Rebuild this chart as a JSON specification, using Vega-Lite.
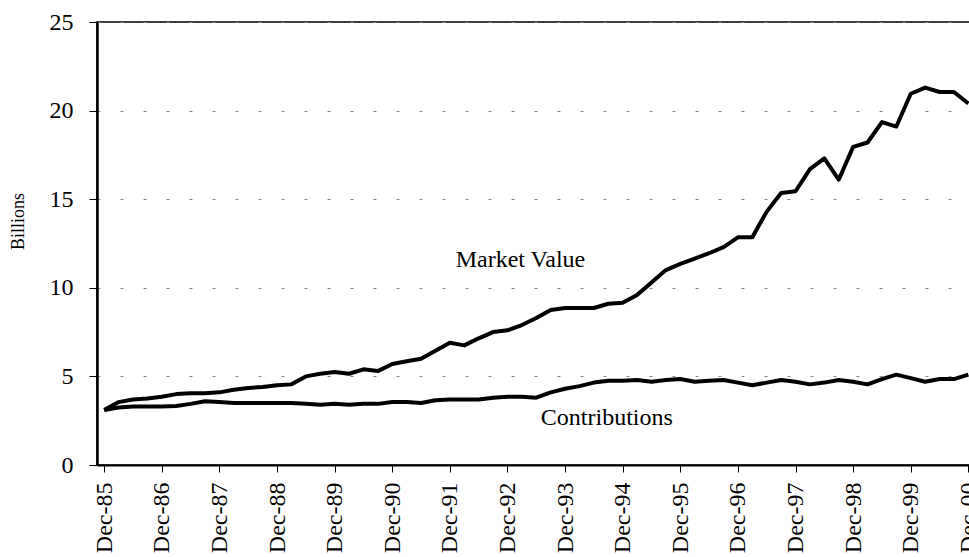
{
  "$schema": "https://vega.github.io/schema/vega-lite/v6.json",
  "autosize": {"type": "none"},
  "padding": {"left": 97, "top": 22, "right": 0, "bottom": 92},
  "width": 880,
  "height": 443,
  "background": "white",
  "config": {
    "view": {"stroke": "black", "strokeWidth": 1.5},
    "font": "Liberation Serif"
  },
  "datasets": {
    "series": [
      {"t": 0, "quarter": "Dec-85", "market_value": 3.1, "contributions": 3.1},
      {"t": 1, "quarter": "Mar-86", "market_value": 3.55, "contributions": 3.25},
      {"t": 2, "quarter": "Jun-86", "market_value": 3.7, "contributions": 3.3},
      {"t": 3, "quarter": "Sep-86", "market_value": 3.75, "contributions": 3.3},
      {"t": 4, "quarter": "Dec-86", "market_value": 3.85, "contributions": 3.3},
      {"t": 5, "quarter": "Mar-87", "market_value": 4.0, "contributions": 3.33},
      {"t": 6, "quarter": "Jun-87", "market_value": 4.05, "contributions": 3.45},
      {"t": 7, "quarter": "Sep-87", "market_value": 4.05, "contributions": 3.6},
      {"t": 8, "quarter": "Dec-87", "market_value": 4.1, "contributions": 3.55},
      {"t": 9, "quarter": "Mar-88", "market_value": 4.25, "contributions": 3.5},
      {"t": 10, "quarter": "Jun-88", "market_value": 4.35, "contributions": 3.5},
      {"t": 11, "quarter": "Sep-88", "market_value": 4.4, "contributions": 3.5},
      {"t": 12, "quarter": "Dec-88", "market_value": 4.5, "contributions": 3.5},
      {"t": 13, "quarter": "Mar-89", "market_value": 4.55, "contributions": 3.5},
      {"t": 14, "quarter": "Jun-89", "market_value": 5.0, "contributions": 3.45},
      {"t": 15, "quarter": "Sep-89", "market_value": 5.15, "contributions": 3.4},
      {"t": 16, "quarter": "Dec-89", "market_value": 5.25, "contributions": 3.45},
      {"t": 17, "quarter": "Mar-90", "market_value": 5.15, "contributions": 3.4},
      {"t": 18, "quarter": "Jun-90", "market_value": 5.4, "contributions": 3.45},
      {"t": 19, "quarter": "Sep-90", "market_value": 5.3, "contributions": 3.45},
      {"t": 20, "quarter": "Dec-90", "market_value": 5.7, "contributions": 3.55},
      {"t": 21, "quarter": "Mar-91", "market_value": 5.85, "contributions": 3.55},
      {"t": 22, "quarter": "Jun-91", "market_value": 6.0, "contributions": 3.5},
      {"t": 23, "quarter": "Sep-91", "market_value": 6.45, "contributions": 3.65},
      {"t": 24, "quarter": "Dec-91", "market_value": 6.9, "contributions": 3.7},
      {"t": 25, "quarter": "Mar-92", "market_value": 6.75, "contributions": 3.7},
      {"t": 26, "quarter": "Jun-92", "market_value": 7.15, "contributions": 3.7},
      {"t": 27, "quarter": "Sep-92", "market_value": 7.5, "contributions": 3.8},
      {"t": 28, "quarter": "Dec-92", "market_value": 7.6, "contributions": 3.85},
      {"t": 29, "quarter": "Mar-93", "market_value": 7.9, "contributions": 3.85},
      {"t": 30, "quarter": "Jun-93", "market_value": 8.3, "contributions": 3.8},
      {"t": 31, "quarter": "Sep-93", "market_value": 8.75, "contributions": 4.1},
      {"t": 32, "quarter": "Dec-93", "market_value": 8.86, "contributions": 4.3},
      {"t": 33, "quarter": "Mar-94", "market_value": 8.86, "contributions": 4.45},
      {"t": 34, "quarter": "Jun-94", "market_value": 8.86, "contributions": 4.65},
      {"t": 35, "quarter": "Sep-94", "market_value": 9.1, "contributions": 4.75},
      {"t": 36, "quarter": "Dec-94", "market_value": 9.15, "contributions": 4.75},
      {"t": 37, "quarter": "Mar-95", "market_value": 9.6, "contributions": 4.8},
      {"t": 38, "quarter": "Jun-95", "market_value": 10.3, "contributions": 4.7},
      {"t": 39, "quarter": "Sep-95", "market_value": 11.0, "contributions": 4.8},
      {"t": 40, "quarter": "Dec-95", "market_value": 11.35, "contributions": 4.85},
      {"t": 41, "quarter": "Mar-96", "market_value": 11.65, "contributions": 4.7},
      {"t": 42, "quarter": "Jun-96", "market_value": 11.95, "contributions": 4.75},
      {"t": 43, "quarter": "Sep-96", "market_value": 12.3, "contributions": 4.8},
      {"t": 44, "quarter": "Dec-96", "market_value": 12.85, "contributions": 4.65},
      {"t": 45, "quarter": "Mar-97", "market_value": 12.85, "contributions": 4.5},
      {"t": 46, "quarter": "Jun-97", "market_value": 14.3, "contributions": 4.65},
      {"t": 47, "quarter": "Sep-97", "market_value": 15.35, "contributions": 4.8},
      {"t": 48, "quarter": "Dec-97", "market_value": 15.45, "contributions": 4.7},
      {"t": 49, "quarter": "Mar-98", "market_value": 16.7, "contributions": 4.55},
      {"t": 50, "quarter": "Jun-98", "market_value": 17.3, "contributions": 4.65},
      {"t": 51, "quarter": "Sep-98", "market_value": 16.1, "contributions": 4.8},
      {"t": 52, "quarter": "Dec-98", "market_value": 17.95, "contributions": 4.7},
      {"t": 53, "quarter": "Mar-99", "market_value": 18.2, "contributions": 4.55},
      {"t": 54, "quarter": "Jun-99", "market_value": 19.35, "contributions": 4.85},
      {"t": 55, "quarter": "Sep-99", "market_value": 19.1, "contributions": 5.1},
      {"t": 56, "quarter": "Dec-99", "market_value": 20.95, "contributions": 4.9},
      {"t": 57, "quarter": "Mar-00", "market_value": 21.3, "contributions": 4.7},
      {"t": 58, "quarter": "Jun-00", "market_value": 21.05, "contributions": 4.85},
      {"t": 59, "quarter": "Sep-00", "market_value": 21.05, "contributions": 4.85},
      {"t": 60, "quarter": "Dec-00", "market_value": 20.4, "contributions": 5.1}
    ],
    "labels": [
      {"label": "Market Value", "t": 28.9, "value": 11.2},
      {"label": "Contributions", "t": 34.9, "value": 2.26}
    ]
  },
  "layer": [
    {
      "data": {"name": "series"},
      "transform": [{"fold": ["market_value", "contributions"], "as": ["series", "value"]}],
      "mark": {"type": "line", "color": "black", "strokeWidth": 4, "strokeJoin": "round"},
      "encoding": {
        "x": {
          "field": "t",
          "type": "quantitative",
          "scale": {"domain": [-0.5, 60.6], "nice": false, "zero": false},
          "axis": {
            "title": null,
            "values": [0,1,2,3,4,5,6,7,8,9,10,11,12,13,14,15,16,17,18,19,20,21,22,23,24,25,26,27,28,29,30,31,32,33,34,35,36,37,38,39,40,41,42,43,44,45,46,47,48,49,50,51,52,53,54,55,56,57,58,59,60],
            "labelExpr": "datum.value % 4 == 0 ? ('Dec-' + (datum.value / 4 + 85 >= 100 ? '0' + (datum.value / 4 - 15) : (datum.value / 4 + 85))) : ''",
            "labelAngle": -90,
            "labelFont": "Liberation Serif",
            "labelFontSize": 24,
            "labelColor": "black",
            "labelPadding": 10,
            "labelOverlap": false,
            "labelFlush": false,
            "labelBound": false,
            "tickColor": "black",
            "tickSize": 7,
            "tickWidth": 1,
            "domainColor": "black",
            "domainWidth": 2,
            "grid": false
          }
        },
        "y": {
          "field": "value",
          "type": "quantitative",
          "scale": {"domain": [0, 25], "nice": false},
          "axis": {
            "title": "Billions",
            "titleFont": "Liberation Serif",
            "titleFontSize": 18,
            "titleFontWeight": "normal",
            "titleColor": "black",
            "titlePadding": 22,
            "titleY": 199,
            "values": [0, 5, 10, 15, 20, 25],
            "labelFont": "Liberation Serif",
            "labelFontSize": 24,
            "labelColor": "black",
            "labelPadding": 16,
            "tickColor": "black",
            "tickSize": 8,
            "tickWidth": 1,
            "domainColor": "black",
            "domainWidth": 2.5,
            "grid": true,
            "gridColor": "#888888",
            "gridDash": [3, 20],
            "gridWidth": 1
          }
        },
        "detail": {"field": "series"}
      }
    },
    {
      "data": {"name": "labels"},
      "mark": {"type": "text", "font": "Liberation Serif", "fontSize": 24, "align": "center", "baseline": "alphabetic", "color": "black"},
      "encoding": {
        "x": {"field": "t", "type": "quantitative"},
        "y": {"field": "value", "type": "quantitative"},
        "text": {"field": "label"}
      }
    }
  ]
}
